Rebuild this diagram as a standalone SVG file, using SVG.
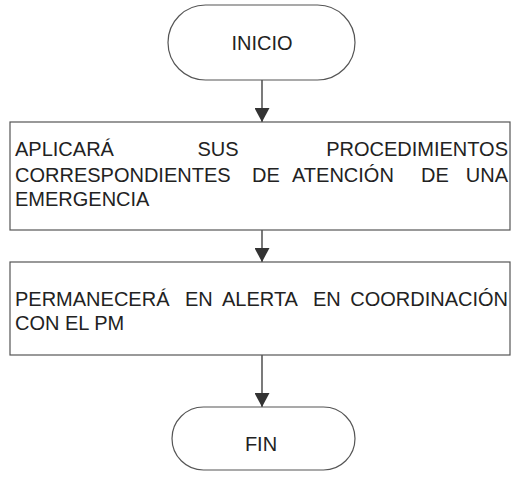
<svg xmlns="http://www.w3.org/2000/svg" width="513" height="481" viewBox="0 0 513 481">
<style>
.term{fill:#fff;stroke:#555;stroke-width:1.2}
.box{fill:#fff;stroke:#555;stroke-width:1.2}
.t{font-family:"Liberation Sans",Arial,sans-serif;font-size:20px;fill:#222}
.c{text-anchor:middle}
.e{text-anchor:end}
.conn{stroke:#333;stroke-width:1.3;fill:none}
</style>
<defs>
<marker id="ah" viewBox="0 0 14 15" refX="14" refY="7.5" markerWidth="14" markerHeight="15" markerUnits="userSpaceOnUse" orient="auto">
<path d="M0,0 L14,7.5 L0,15 Z" fill="#333"/>
</marker>
</defs>
<rect width="513" height="481" fill="#fff"/>
<g id="connectors">
<line class="conn" x1="262" y1="80" x2="262" y2="122" marker-end="url(#ah)"/>
<line class="conn" x1="262" y1="230" x2="262" y2="262" marker-end="url(#ah)"/>
<line class="conn" x1="262" y1="355" x2="262" y2="407" marker-end="url(#ah)"/>
</g>
<g id="inicio">
<rect class="term" x="168" y="5" width="187" height="75" rx="37.5" ry="37.5"/>
<text class="t c" x="262" y="50">INICIO</text>
</g>
<g id="paso1">
<rect class="box" x="10" y="122" width="500" height="108"/>
<text class="t" x="15" y="156">APLICARÁ</text>
<text class="t c" x="218" y="156">SUS</text>
<text class="t e" x="508" y="156">PROCEDIMIENTOS</text>
<text class="t" x="15" y="182">CORRESPONDIENTES</text>
<text class="t" x="252" y="182">DE</text>
<text class="t" x="292" y="182">ATENCIÓN</text>
<text class="t" x="421" y="182">DE</text>
<text class="t e" x="508" y="182">UNA</text>
<text class="t" x="15" y="206">EMERGENCIA</text>
</g>
<g id="paso2">
<rect class="box" x="10" y="262" width="500" height="93"/>
<text class="t" x="15" y="306">PERMANECERÁ</text>
<text class="t" x="185" y="306">EN</text>
<text class="t" x="222" y="306">ALERTA</text>
<text class="t" x="313" y="306">EN</text>
<text class="t e" x="508" y="306">COORDINACIÓN</text>
<text class="t" x="15" y="330">CON EL PM</text>
</g>
<g id="fin">
<rect class="term" x="172" y="407" width="183" height="63" rx="31.5" ry="31.5"/>
<text class="t c" x="261" y="451">FIN</text>
</g>
</svg>
